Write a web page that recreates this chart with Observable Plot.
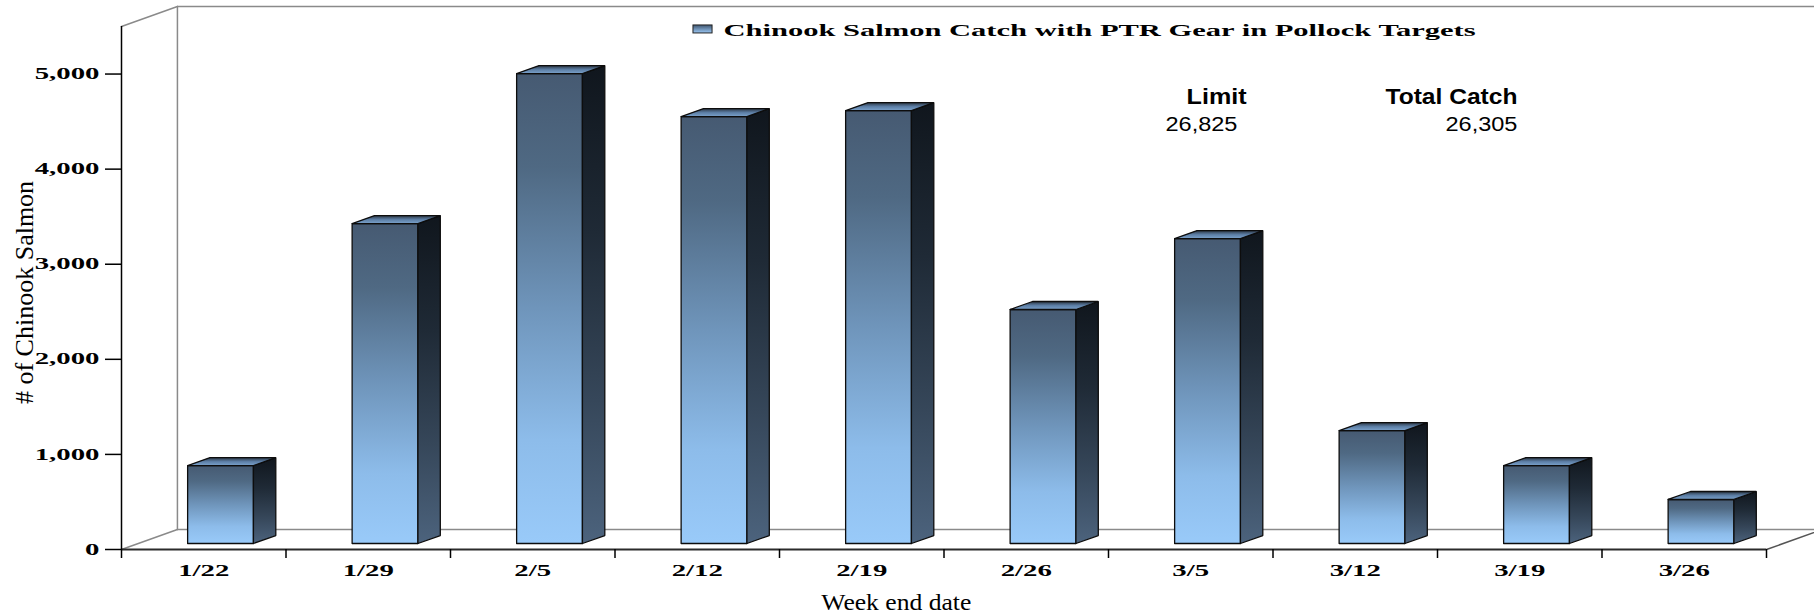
<!DOCTYPE html>
<html><head><meta charset="utf-8">
<script src="https://cdn.jsdelivr.net/npm/d3@7"></script>
<script src="https://cdn.jsdelivr.net/npm/@observablehq/plot@0.6"></script>
<style>html,body{margin:0;padding:0;background:#fff;overflow:hidden}</style>
</head><body><div id="chart"></div>
<script>
// ---- data ----
const categories = ["1/22","1/29","2/5","2/12","2/19","2/26","3/5","3/12","3/19","3/26"];
const catchValues = [820, 3365, 4942, 4490, 4553, 2461, 3207, 1188, 820, 463];
const yTicks = [0, 1000, 2000, 3000, 4000, 5000];
const seriesName = "Chinook Salmon Catch with PTR Gear in Pollock Targets";
const yTitle = "# of Chinook Salmon";
const xTitle = "Week end date";
const limitLabel = "Limit";
const limitValue = 26825;
const totalLabel = "Total Catch";
const totalValue = 26305;

// ---- 3D projection helpers (data units) ----
const Y_MAX = 5500;
const N = categories.length;
const DEPTH_X = 0.34, DEPTH_Y = 210;
const P = (x, v, d) => ({px: x + d * DEPTH_X, py: v + d * DEPTH_Y});
const poly = (id, pts) => [...pts, pts[0]].map(p => ({id, ...p}));
const seg = (id, a, b) => [{id, ...a}, {id, ...b}];

const frontFaces = [], sideFaces = [], topFaces = [];
catchValues.forEach((v, i) => {
  const x0 = i + 0.3, x1 = i + 0.7, d0 = 0.3, d1 = 0.7;
  frontFaces.push(...poly(i, [P(x0,0,d0), P(x1,0,d0), P(x1,v,d0), P(x0,v,d0)]));
  sideFaces.push(...poly(i, [P(x1,0,d0), P(x1,0,d1), P(x1,v,d1), P(x1,v,d0)]));
  topFaces.push(...poly(i, [P(x0,v,d0), P(x1,v,d0), P(x1,v,d1), P(x0,v,d1)]));
});

const walls = [
  ...seg("a", P(0,0,0), P(0,0,1)),
  ...seg("b", P(0,Y_MAX,0), P(0,Y_MAX,1)),
  ...seg("c", P(0,0,1), P(0,Y_MAX,1)),
  ...seg("d", P(0,Y_MAX,1), P(N + 0.5,Y_MAX,1)),
  ...seg("e", P(0,0,1), P(N + 0.5,0,1))
];
const rightEdge = seg("r", P(N,0,0), P(N,0,1));

const fmt = d3.format(",");
const serif = "Liberation Serif, Times New Roman, serif";
const sans = "Liberation Sans, Arial, sans-serif";

const chart = Plot.plot({
  width: 1814, height: 615,
  marginLeft: 121, marginRight: 48, marginTop: 26, marginBottom: 66,
  x: {type: "linear", domain: [0, N]},
  y: {type: "linear", domain: [0, Y_MAX]},
  style: {background: "white", overflow: "visible"},
  marks: [
    Plot.line(walls, {x: "px", y: "py", z: "id", stroke: "#8a8a8a", strokeWidth: 1.5}),
    Plot.line(rightEdge, {x: "px", y: "py", z: "id", stroke: "#555", strokeWidth: 1.5}),
    Plot.ruleY([0], {x1: 0, x2: N, stroke: "#2b2b2b", strokeWidth: 2}),
    Plot.ruleX([0], {y1: 0, y2: Y_MAX, stroke: "#000", strokeWidth: 1.5}),
    Plot.axisY(yTicks, {tickSize: 16, tickPadding: 6, tickFormat: fmt, fontSize: 16, fontWeight: "bold", fontFamily: serif, label: null, stroke: "#000", strokeWidth: 1.5}),
    Plot.axisX(d3.range(0, N + 1), {tickSize: 9, tickFormat: () => "", label: null, stroke: "#000", strokeWidth: 1.5}),
    Plot.text(categories, {x: (d, i) => i + 0.5, y: 0, dy: 26, text: d => d, lineAnchor: "bottom", fontSize: 16, fontWeight: "bold", fontFamily: serif, fill: "#000"}),
    Plot.line(frontFaces, {x: "px", y: "py", z: "id", fill: "url(#gFront)", stroke: "#0d0d0d", strokeWidth: 1.3, strokeLinejoin: "miter"}),
    Plot.line(sideFaces, {x: "px", y: "py", z: "id", fill: "url(#gSide)", stroke: "#0d0d0d", strokeWidth: 1.3, strokeLinejoin: "miter"}),
    Plot.line(topFaces, {x: "px", y: "py", z: "id", fill: "url(#gTop)", stroke: "#0d0d0d", strokeWidth: 1.3, strokeLinejoin: "miter"}),
    // legend
    Plot.rect([seriesName], {x1: 3.477, x2: 3.593, y1: 5427, y2: 5511, fill: "url(#gLegend)", stroke: "#222", strokeWidth: 1}),
    Plot.text([seriesName], {x: 3.66, y: 5395, text: d => d, textAnchor: "start", lineAnchor: "bottom", fontSize: 16, fontWeight: "bold", fontFamily: serif, fill: "#000"}),
    // limit / total
    Plot.text([limitLabel], {x: 6.657, y: 4690, text: d => d, textAnchor: "middle", lineAnchor: "bottom", fontSize: 22, fontWeight: "bold", fontFamily: sans, fill: "#000"}),
    Plot.text([fmt(limitValue)], {x: 6.565, y: 4406, text: d => d, textAnchor: "middle", lineAnchor: "bottom", fontSize: 20, fontFamily: sans, fill: "#000"}),
    Plot.text([totalLabel], {x: 8.486, y: 4690, text: d => d, textAnchor: "end", lineAnchor: "bottom", fontSize: 22, fontWeight: "bold", fontFamily: sans, fill: "#000"}),
    Plot.text([fmt(totalValue)], {x: 8.486, y: 4406, text: d => d, textAnchor: "end", lineAnchor: "bottom", fontSize: 20, fontFamily: sans, fill: "#000"}),
    // titles
    Plot.text([yTitle], {x: -0.59, y: 2703, text: d => d, rotate: -90, fontSize: 26, fontFamily: serif, fill: "#000"}),
    Plot.text([xTitle], {x: 4.71, y: 0, dy: 60, text: d => d, lineAnchor: "bottom", fontSize: 24, fontFamily: serif, fill: "#000"})
  ]
});

document.getElementById("chart").appendChild(chart);

d3.select(chart).insert("defs", ":first-child").html(`
  <linearGradient id="gFront" x1="0" y1="0" x2="0" y2="1">
    <stop offset="0" stop-color="#465a72"/>
    <stop offset="0.2" stop-color="#4f6983"/>
    <stop offset="0.5" stop-color="#6f95bb"/>
    <stop offset="0.78" stop-color="#8dbcea"/>
    <stop offset="1" stop-color="#99caf9"/>
  </linearGradient>
  <linearGradient id="gSide" x1="0" y1="0" x2="0" y2="1">
    <stop offset="0" stop-color="#10161d"/>
    <stop offset="0.35" stop-color="#1f2a36"/>
    <stop offset="0.7" stop-color="#36475a"/>
    <stop offset="1" stop-color="#4c637d"/>
  </linearGradient>
  <linearGradient id="gTop" x1="0" y1="0" x2="0" y2="1">
    <stop offset="0" stop-color="#2a3542"/>
    <stop offset="0.5" stop-color="#5c7ea5"/>
    <stop offset="1" stop-color="#7ba2cb"/>
  </linearGradient>
  <linearGradient id="gLegend" x1="0" y1="0" x2="0" y2="1">
    <stop offset="0" stop-color="#3f5670"/>
    <stop offset="1" stop-color="#9cc8f5"/>
  </linearGradient>`);

// horizontal stretching of text, as in the original
const targets = new Map([
  [seriesName, 752], [limitLabel, 60], [totalLabel, 132],
  [fmt(limitValue), 72], [fmt(totalValue), 72], [xTitle, 150]
]);
const tickTexts = new Set([...categories, ...yTicks.map(fmt)]);
d3.select(chart).selectAll("text").each(function() {
  const t = this.textContent;
  if (!t) return;
  let w = null;
  if (targets.has(t)) w = targets.get(t);
  else if (tickTexts.has(t)) w = this.getComputedTextLength() * 1.8;
  if (w) {
    this.setAttribute("textLength", w);
    this.setAttribute("lengthAdjust", "spacingAndGlyphs");
  }
});
</script>
</body></html>
